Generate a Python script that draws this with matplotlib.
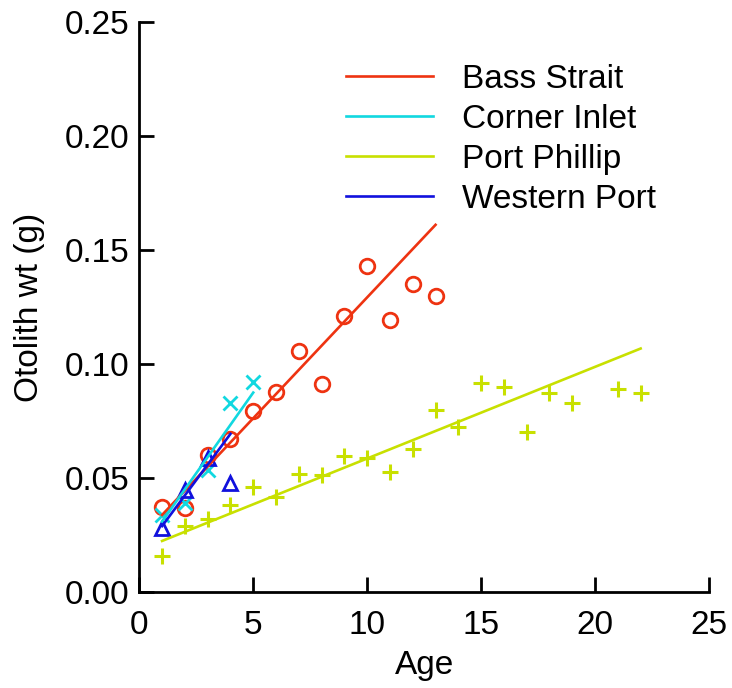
import matplotlib
matplotlib.use('Agg')
import matplotlib.pyplot as plt
import numpy as np

plt.rcParams['font.family'] = ['Liberation Sans', 'DejaVu Sans']

## Data
bass_age = [1, 2, 3, 4, 5, 6, 7, 8, 9, 10, 11, 12, 13]
bass_wt = [0.0375, 0.037, 0.0600, 0.0670, 0.0795, 0.0876, 0.1058, 0.0912, 0.1212, 0.1430, 0.1195, 0.1350, 0.1300]
bass_fit_age = [1, 13]
bass_fit_wt = [0.0339, 0.1610]

corner_age = [1, 2, 3, 4, 5]
corner_wt = [0.0340, 0.0390, 0.0537, 0.0828, 0.0922]
corner_fit_age = [1, 5]
corner_fit_wt = [0.0310, 0.0875]

phillip_age = [1, 2, 3, 4, 5, 6, 7, 8, 9, 10, 11, 12, 13, 14, 15, 16, 17, 18, 19, 21, 22]
phillip_wt = [0.0158, 0.0289, 0.0321, 0.0381, 0.0461, 0.0418, 0.0519, 0.0513, 0.0595, 0.0590,
              0.0527, 0.0627, 0.0798, 0.0726, 0.0915, 0.0900, 0.0701, 0.0871, 0.0828, 0.0889, 0.0871]
phillip_fit_age = [1, 22]
phillip_fit_wt = [0.0225, 0.1068]

western_age = [1, 2, 3, 4]
western_wt = [0.0282, 0.0449, 0.0588, 0.0479]
western_fit_age = [1, 4]
western_fit_wt = [0.0290, 0.0694]

c_red = '#EE3311'
c_cyan = '#11D8E0'
c_yel = '#C8E000'
c_blue = '#1111DD'

fig = plt.figure(figsize=(7.32, 6.88), dpi=100)
ax = fig.add_axes([0.1903, 0.1391, 0.7783, 0.8294])

# scatter points
ax.plot(phillip_age, phillip_wt, '+', color=c_yel, ms=12, mew=2.2, ls='none')
ax.plot(bass_age, bass_wt, 'o', mfc='none', mec=c_red, ms=10.5, mew=2, ls='none')
ax.plot(corner_age, corner_wt, 'x', color=c_cyan, ms=10.5, mew=2, ls='none')
ax.plot(western_age, western_wt, '^', mfc='none', mec=c_blue, ms=10, mew=2, ls='none')

# fitted lines
ax.plot(bass_fit_age, bass_fit_wt, color=c_red, lw=1.9, label='Bass Strait')
ax.plot(corner_fit_age, corner_fit_wt, color=c_cyan, lw=1.9, label='Corner Inlet')
ax.plot(phillip_fit_age, phillip_fit_wt, color=c_yel, lw=1.9, label='Port Phillip')
ax.plot(western_fit_age, western_fit_wt, color=c_blue, lw=1.9, label='Western Port')

ax.set_xlim(0, 25)
ax.set_ylim(0, 0.25)
ax.set_xticks(np.arange(0, 26, 5))
ax.set_yticks(np.arange(0, 0.251, 0.05))
ax.set_yticklabels(['0.00', '0.05', '0.10', '0.15', '0.20', '0.25'])

for s in ['top', 'right']:
    ax.spines[s].set_visible(False)
for s in ['left', 'bottom']:
    ax.spines[s].set_linewidth(2.0)
ax.tick_params(direction='in', length=11, width=2.0, labelsize=24)
ax.tick_params(axis='x', pad=13)
ax.tick_params(axis='y', pad=7)

ax.set_xlabel('Age', fontsize=24, labelpad=6)
ax.set_ylabel('Otolith wt (g)', fontsize=24, labelpad=14)

ax.legend(loc='upper left', bbox_to_anchor=(0.34, 0.95), frameon=False, fontsize=24,
          handlelength=2.6, handletextpad=0.87, labelspacing=0.27, borderaxespad=0)

fig.savefig('out.png', dpi=100)
